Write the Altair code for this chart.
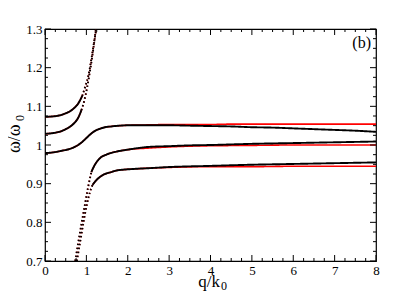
import altair as alt
import pandas as pd

# ---------------- data ----------------
# black curves (solid part, dotted steep part)
A_sol_q = [0, 0.2, 0.4, 0.5, 0.6, 0.7, 0.8, 0.9]
A_sol_w = [1.073, 1.074, 1.078, 1.082, 1.087, 1.095, 1.107, 1.127]
A_dot_q = [0.9, 0.97, 1.05, 1.13, 1.2, 1.24]
A_dot_w = [1.127, 1.15, 1.18, 1.228, 1.275, 1.3]

B_sol_q = [0, 0.2, 0.4, 0.5, 0.6, 0.7, 0.8, 0.88]
B_sol_w = [1.029, 1.031, 1.036, 1.041, 1.047, 1.056, 1.07, 1.09]
B_dot_q = [0.88, 0.95, 1.02, 1.1, 1.17, 1.23]
B_dot_w = [1.09, 1.115, 1.15, 1.2, 1.25, 1.3]

C_q = [0, 0.2, 0.4, 0.6, 0.8, 0.9, 1.0, 1.1, 1.2, 1.3, 1.45, 1.6, 1.8, 2.0, 2.5,
       3.0, 3.5, 4.0, 4.5, 5.0, 5.5, 6.0, 6.5, 7.0, 7.5, 8.0]
C_w_black = [0.979, 0.981, 0.985, 0.99, 1.0, 1.008, 1.018, 1.028, 1.036, 1.041, 1.046,
             1.048, 1.05, 1.051, 1.051, 1.051, 1.05, 1.049, 1.048, 1.046, 1.045, 1.043,
             1.041, 1.039, 1.037, 1.034]
C_w_red = [0.979, 0.981, 0.985, 0.99, 1.0, 1.008, 1.018, 1.028, 1.036, 1.041, 1.046,
           1.048, 1.05, 1.051, 1.052, 1.053, 1.053, 1.053, 1.054, 1.054, 1.054, 1.054,
           1.054, 1.054, 1.054, 1.054]

D_dot_q = [0.73, 0.8, 0.88, 0.96, 1.04, 1.12]
D_dot_w = [0.7, 0.745, 0.795, 0.843, 0.89, 0.93]
D_sol_q = [1.12, 1.2, 1.33, 1.5, 1.73, 2.0, 2.5, 3.0, 3.5, 4.0, 5.0, 6.0, 7.0, 8.0]
D_w_black = [0.93, 0.948, 0.966, 0.976, 0.983, 0.988, 0.995, 0.997, 0.999, 1.0,
             1.003, 1.005, 1.007, 1.009]
D_w_red = [0.93, 0.948, 0.966, 0.976, 0.983, 0.988, 0.992, 0.995, 0.997, 0.998,
           0.999, 1.0, 1.0, 1.0]

E_dot_q = [0.77, 0.85, 0.93, 1.01, 1.08, 1.15]
E_dot_w = [0.7, 0.75, 0.8, 0.845, 0.876, 0.897]
E_sol_q = [1.15, 1.25, 1.41, 1.6, 1.73, 2.13, 2.5, 3.0, 4.0, 5.0, 6.0, 7.0, 8.0]
E_w_black = [0.897, 0.91, 0.923, 0.93, 0.934, 0.938, 0.94, 0.943, 0.946, 0.949,
             0.951, 0.953, 0.955]
E_w_red = [0.897, 0.91, 0.923, 0.93, 0.934, 0.938, 0.94, 0.942, 0.944, 0.944,
           0.945, 0.945, 0.945]

x_major = [0, 1, 2, 3, 4, 5, 6, 7, 8]
x_minor = [i * 0.25 for i in range(33) if i % 4 != 0]
y_major = [0.7, 0.8, 0.9, 1.0, 1.1, 1.2, 1.3]
y_minor = [round(0.7 + i * 0.025, 4) for i in range(25) if i % 4 != 0]

# ---------------- build tables ----------------
def seg(name, style, qs, ws):
    return pd.DataFrame({"q": qs, "w": ws, "seg": name, "style": style})

black = pd.concat([
    seg("A1", "solid", A_sol_q, A_sol_w), seg("A2", "dot", A_dot_q, A_dot_w),
    seg("B1", "solid", B_sol_q, B_sol_w), seg("B2", "dot", B_dot_q, B_dot_w),
    seg("C1", "solid", C_q, C_w_black),
    seg("D1", "dot", D_dot_q, D_dot_w), seg("D2", "solid", D_sol_q, D_w_black),
    seg("E1", "dot", E_dot_q, E_dot_w), seg("E2", "solid", E_sol_q, E_w_black),
], ignore_index=True)

red = pd.concat([
    seg("A1", "solid", A_sol_q, A_sol_w), seg("A2", "dot", A_dot_q, A_dot_w),
    seg("B1", "solid", B_sol_q, B_sol_w), seg("B2", "dot", B_dot_q, B_dot_w),
    seg("C1", "solid", C_q, C_w_red),
    seg("D1", "dot", D_dot_q, D_dot_w), seg("D2", "solid", D_sol_q, D_w_red),
    seg("E1", "dot", E_dot_q, E_dot_w), seg("E2", "solid", E_sol_q, E_w_red),
], ignore_index=True)

W, H = 331, 232
FONT = "Liberation Serif, Times New Roman, DejaVu Serif, serif"

xs = alt.Scale(domain=[0, 8], nice=False)
ys = alt.Scale(domain=[0.7, 1.3], nice=False, zero=False)
dash = alt.StrokeDash("style:N", scale=alt.Scale(domain=["solid", "dot"],
                      range=[[1, 0], [1.5, 2.5]]), legend=None)

xaxis = alt.Axis(values=x_major, format="d", ticks=False, domain=False, grid=False,
                 labelFont=FONT, labelFontSize=13, labelColor="black",
                 labelOverlap=False, labelFlush=False, labelBound=False,
                 labelPadding=3, title=None)
yaxis = alt.Axis(values=y_major, format=".1~f", ticks=False, domain=False, grid=False,
                 labelFont=FONT, labelFontSize=13, labelColor="black",
                 labelOverlap=False, labelFlush=False, labelBound=False,
                 labelPadding=3, title=None)

red_layer = alt.Chart(red).mark_line(color="#ff0000", strokeWidth=1.6,
                                     interpolate="monotone", clip=True).encode(
    x=alt.X("q:Q", scale=xs, axis=xaxis),
    y=alt.Y("w:Q", scale=ys, axis=yaxis),
    detail="seg:N", strokeDash=dash, order="q:Q")

black_layer = alt.Chart(black).mark_line(color="black", strokeWidth=1.9,
                                         interpolate="monotone", clip=True).encode(
    x=alt.X("q:Q", scale=xs, axis=xaxis),
    y=alt.Y("w:Q", scale=ys, axis=yaxis),
    detail="seg:N", strokeDash=dash, order="q:Q")

def tick_layers():
    layers = []
    for vals, L in ((x_major, 6), (x_minor, 3)):
        d = pd.DataFrame({"t": vals})
        layers.append(alt.Chart(d).mark_rule(color="black", strokeWidth=1).encode(
            x=alt.X("t:Q", scale=xs, axis=xaxis), y=alt.value(H), y2=alt.value(H - L)))
        layers.append(alt.Chart(d).mark_rule(color="black", strokeWidth=1).encode(
            x=alt.X("t:Q", scale=xs, axis=xaxis), y=alt.value(0), y2=alt.value(L)))
    for vals, L in ((y_major, 6), (y_minor, 3)):
        d = pd.DataFrame({"t": vals})
        layers.append(alt.Chart(d).mark_rule(color="black", strokeWidth=1).encode(
            y=alt.Y("t:Q", scale=ys, axis=yaxis), x=alt.value(0), x2=alt.value(L)))
        layers.append(alt.Chart(d).mark_rule(color="black", strokeWidth=1).encode(
            y=alt.Y("t:Q", scale=ys, axis=yaxis), x=alt.value(W), x2=alt.value(W - L)))
    return layers

def txt(s, x, y, size, align="left", angle=0):
    kw = dict(font=FONT, fontSize=size, align=align, baseline="alphabetic",
              color="black")
    if angle:
        kw["angle"] = angle
    return alt.Chart(pd.DataFrame({"s": [s]})).mark_text(**kw).encode(
        text="s:N", x=alt.value(x), y=alt.value(y))

texts = [
    txt("q/k", 175, 258, 17, align="right"),
    txt("0", 176, 260.5, 12),
    txt("ω/ω", -25.5, 124, 18, angle=270),
    txt("0", -21.5, 92, 12, angle=270),
    txt("(b)", 326, 19, 16, align="right"),
]

chart = alt.layer(red_layer, black_layer, *tick_layers(), *texts).properties(
    width=W, height=H,
    autosize=alt.AutoSizeParams(type="none"),
    padding={"left": 37, "top": 21, "right": 27, "bottom": 30},
).configure_view(stroke="black", strokeWidth=1.2
).configure_axis(labelFont=FONT, labelFontSize=13, labelColor="black")

chart.save("out.html", embed_options={"renderer": "svg", "actions": False})
